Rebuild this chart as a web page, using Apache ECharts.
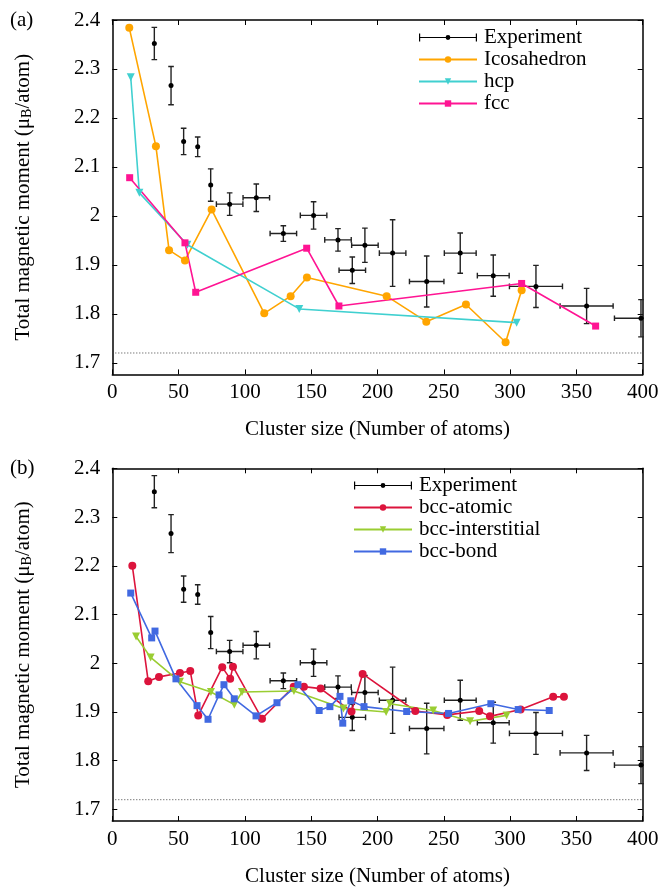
<!DOCTYPE html>
<html>
<head>
<meta charset="utf-8">
<script src="https://cdn.jsdelivr.net/npm/echarts@6/dist/echarts.min.js"></script>
<style>
html,body{margin:0;padding:0;background:#fff;}
#chart{width:663px;height:888px;}
</style>
</head>
<body>
<div id="chart"></div>
<script>
// Experiment: [size, moment, xErr, yErr]
const experiment = [
  [31.7,2.352,0,0.033],[44.3,2.266,0,0.039],[53.8,2.152,0,0.027],[64.4,2.141,0,0.020],
  [74.2,2.063,0,0.033],[88.5,2.024,10,0.023],[108.6,2.037,10,0.028],[129.0,1.964,10,0.016],
  [151.8,2.001,10,0.028],[170.2,1.951,10,0.023],[181.0,1.889,10,0.027],[190.5,1.940,10,0.035],
  [211.4,1.924,10,0.068],[237.1,1.866,13,0.052],[262.4,1.924,12,0.041],[287.3,1.878,12,0.042],
  [319.5,1.856,20,0.043],[357.7,1.816,20,0.036],[398.7,1.791,20,0.038]
];
const icosahedron = [[12.8,2.384],[32.9,2.142],[42.8,1.930],[54.8,1.909],[74.9,2.013],[114.6,1.801],[134.5,1.836],[146.8,1.874],[206.9,1.836],[236.8,1.784],[266.7,1.819],[296.6,1.742],[308.7,1.848]];
const hcp = [[13.9,2.283],[20.4,2.047],[56.6,1.941],[141.0,1.810],[304.9,1.782]];
const fcc = [[13.1,2.078],[54.8,1.945],[62.9,1.844],[146.6,1.934],[170.9,1.816],[308.7,1.862],[364.5,1.775]];
const bccAtomic = [[15.1,2.200],[27.1,1.963],[35.2,1.972],[51.0,1.980],[58.8,1.984],[64.8,1.893],[82.9,1.992],[88.9,1.968],[91.0,1.993],[112.9,1.886],[136.8,1.952],[144.5,1.952],[157.1,1.948],[180.4,1.901],[188.8,1.978],[228.5,1.902],[252.6,1.894],[276.7,1.902],[284.8,1.891],[307.9,1.905],[332.5,1.931],[340.6,1.931]];
const bccInterstitial = [[17.9,2.055],[28.9,2.012],[51.0,1.962],[74.4,1.941],[92.0,1.915],[97.8,1.941],[137.0,1.943],[174.3,1.907],[206.5,1.900],[209.4,1.917],[242.0,1.903],[269.8,1.881],[297.4,1.893]];
const bccBond = [[13.9,2.144],[29.7,2.052],[32.2,2.066],[48.0,1.968],[63.9,1.913],[72.2,1.885],[80.5,1.935],[84.2,1.956],[92.0,1.927],[108.4,1.892],[124.2,1.919],[140.0,1.956],[156.0,1.903],[164.1,1.911],[171.7,1.932],[173.8,1.877],[179.9,1.923],[189.8,1.911],[222.0,1.901],[253.6,1.897],[285.5,1.917],[306.1,1.905],[329.5,1.903]];
const yTicks = [1.7,1.8,1.9,2.0,2.1,2.2,2.3,2.4];
const referenceLine = 1.72;

const FONT = 'Liberation Serif';
const FS = 21;

function errRender(params, api){
  const x = api.value(0), y = api.value(1), xe = api.value(2), ye = api.value(3);
  const c = api.coord([x,y]);
  const t = api.coord([x,y+ye]), b = api.coord([x,y-ye]);
  const st = {stroke:'#222', lineWidth:1.4};
  const cap = 2.8;
  const ch = [
    {type:'line', shape:{x1:c[0],y1:t[1],x2:c[0],y2:b[1]}, style:st},
    {type:'line', shape:{x1:c[0]-cap,y1:t[1],x2:c[0]+cap,y2:t[1]}, style:st},
    {type:'line', shape:{x1:c[0]-cap,y1:b[1],x2:c[0]+cap,y2:b[1]}, style:st}
  ];
  if (xe > 0){
    const l = api.coord([x-xe,y]), r = api.coord([x+xe,y]);
    ch.push({type:'line', shape:{x1:l[0],y1:c[1],x2:r[0],y2:c[1]}, style:st});
    ch.push({type:'line', shape:{x1:l[0],y1:c[1]-cap,x2:l[0],y2:c[1]+cap}, style:st});
    ch.push({type:'line', shape:{x1:r[0],y1:c[1]-cap,x2:r[0],y2:c[1]+cap}, style:st});
  }
  ch.push({type:'circle', shape:{cx:c[0],cy:c[1],r:2.5}, style:{fill:'#000'}});
  return {type:'group', children:ch};
}

const gridL = 112.3, gridW = 530.4, gridH = 354.4;
const tops = [20, 468.3];

function xAxes(gi){
  const base = {gridIndex:gi, type:'value', min:0, max:400, interval:50,
    axisLine:{show:true, onZero:false, lineStyle:{color:'#000', width:1.5}},
    axisTick:{show:true, inside:true, length:5, lineStyle:{color:'#000', width:1}},
    splitLine:{show:false}};
  return [
    Object.assign({}, base, {position:'bottom',
      axisLabel:{show:true, margin:8, fontFamily:FONT, fontSize:FS, color:'#000'},
      name:'Cluster size (Number of atoms)', nameLocation:'middle', nameGap:45,
      nameTextStyle:{fontFamily:FONT, fontSize:FS, color:'#000'}}),
    Object.assign({}, base, {position:'top', axisLabel:{show:false}})
  ];
}
function yAxes(gi){
  const base = {gridIndex:gi, type:'value', min:1.6763, max:2.4,
    axisLine:{show:true, onZero:false, lineStyle:{color:'#000', width:1.5}},
    axisTick:{show:true, inside:true, length:5, customValues:yTicks, lineStyle:{color:'#000', width:1}},
    splitLine:{show:false}};
  return [
    Object.assign({}, base, {position:'left',
      axisLabel:{show:true, margin:12, customValues:yTicks, fontFamily:FONT, fontSize:FS, color:'#000'},
      name:'Total magnetic moment (μ{sub|B}/atom)', nameLocation:'middle', nameGap:78, nameRotate:90,
      nameTextStyle:{fontFamily:FONT, fontSize:FS, color:'#000',
        rich:{sub:{fontFamily:FONT, fontSize:14, color:'#000', verticalAlign:'bottom', padding:[8,0,0,0]}}}}),
    Object.assign({}, base, {position:'right', axisLabel:{show:false}})
  ];
}

function lineSeries(name, data, color, symbol, size, xi, yi, rot){
  return {name:name, type:'line', data:data, xAxisIndex:xi, yAxisIndex:yi,
    symbol:symbol, symbolSize:size, symbolRotate:rot||0, showSymbol:true,
    lineStyle:{color:color, width:1.6}, itemStyle:{color:color}, z:3, silent:true};
}
function expSeries(xi, yi){
  return {name:'Experiment', type:'custom', data:experiment, xAxisIndex:xi, yAxisIndex:yi,
    renderItem:errRender, clip:true, itemStyle:{color:'#000'}, z:2, silent:true,
    encode:{x:0, y:1}};
}
function refLine(xi, yi){
  return {type:'line', data:[[0,referenceLine],[400,referenceLine]], xAxisIndex:xi, yAxisIndex:yi,
    symbol:'none', lineStyle:{color:'#444', width:1, type:[1,2]}, z:1, silent:true};
}

const expIcon = 'path://M0,3.4H58V4.6H0Z M0,0H1.2V8H0Z M56.8,0H58V8H56.8Z M26.6,4A2.4,2.4 0 1 1 31.4,4A2.4,2.4 0 1 1 26.6,4Z';

const legendBase = {orient:'vertical', itemWidth:58, itemHeight:8, itemGap:1,
  textStyle:{fontFamily:FONT, fontSize:FS, color:'#000', lineHeight:21, padding:[0,0,0,2]},
  selectedMode:false};

const option = {
  animation:false,
  backgroundColor:'#fff',
  grid:[
    {left:gridL, top:tops[0], width:gridW, height:gridH},
    {left:gridL, top:tops[1], width:gridW, height:gridH}
  ],
  xAxis:[].concat(xAxes(0), xAxes(1)),
  yAxis:[].concat(yAxes(0), yAxes(1)),
  legend:[
    Object.assign({}, legendBase, {left:413, top:22,
      data:[{name:'Experiment', icon:expIcon}, 'Icosahedron', 'hcp', 'fcc']}),
    Object.assign({}, legendBase, {left:348, top:470,
      data:[{name:'Experiment', icon:expIcon}, 'bcc-atomic', 'bcc-interstitial', 'bcc-bond']})
  ],
  graphic:[
    {type:'text', left:10, top:10, style:{text:'(a)', font:FS+'px "'+FONT+'"', fill:'#000'}},
    {type:'text', left:10, top:458, style:{text:'(b)', font:FS+'px "'+FONT+'"', fill:'#000'}}
  ],
  series:[
    refLine(0,0),
    expSeries(0,0),
    lineSeries('Icosahedron', icosahedron, '#FFA500', 'circle', 8, 0, 0),
    lineSeries('hcp', hcp, '#40D0D0', 'triangle', 8, 0, 0, 180),
    lineSeries('fcc', fcc, '#FF1493', 'rect', 7, 0, 0),
    refLine(2,2),
    expSeries(2,2),
    lineSeries('bcc-atomic', bccAtomic, '#DC143C', 'circle', 8, 2, 2),
    lineSeries('bcc-interstitial', bccInterstitial, '#9ACD32', 'triangle', 8, 2, 2, 180),
    lineSeries('bcc-bond', bccBond, '#4169E1', 'rect', 7, 2, 2)
  ]
};
const chart = echarts.init(document.getElementById('chart'), null, {renderer:'canvas'});
chart.setOption(option);
</script>
</body>
</html>
